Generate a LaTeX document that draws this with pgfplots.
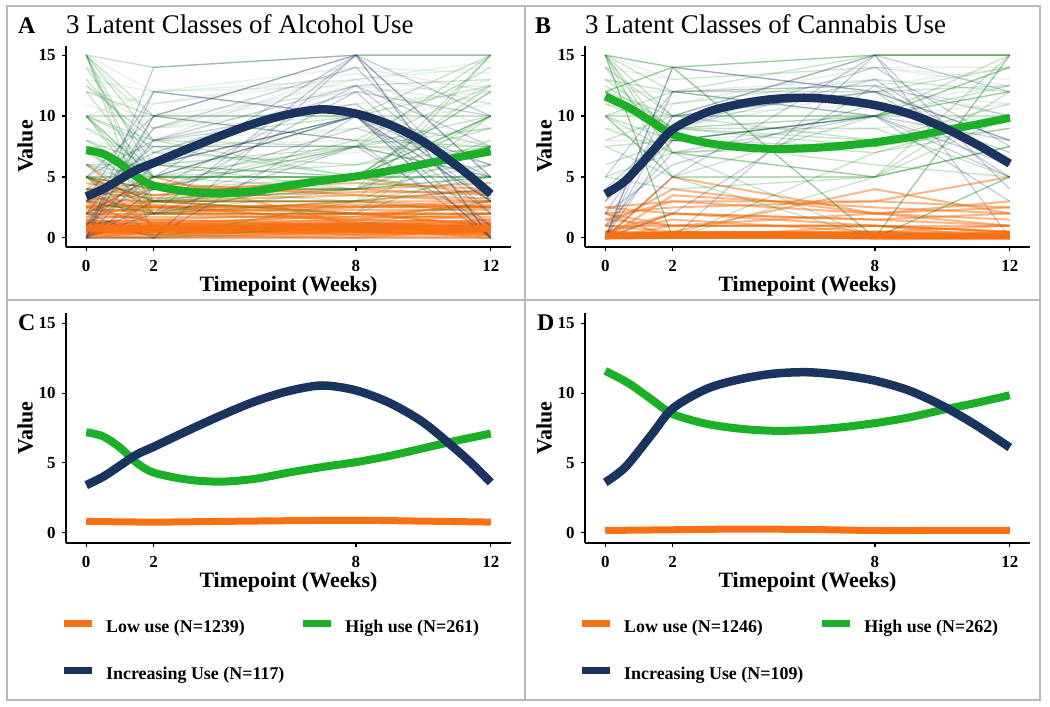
\documentclass[border=0pt]{standalone}
\usepackage{pgfplots}
\pgfplotsset{compat=1.18}
\usepackage{fontspec}
\setmainfont{Liberation Serif}
\definecolor{cOr}{RGB}{247,112,19}
\definecolor{cGr}{RGB}{28,176,40}
\definecolor{cNv}{RGB}{27,52,95}
\definecolor{cFr}{RGB}{185,185,185}
\pgfplotsset{
  panel/.style={scale only axis, width=445bp,
    xmin=-0.6, xmax=12.6, ymin=-0.75, ymax=15.75,
    axis lines=left, axis line style={-, line width=1.4bp, black},
    xtick={0,2,8,12}, ytick={0,5,10,15},
    tick align=outside, major tick length=4bp,
    tick style={line width=1.2bp, black},
    ticklabel style={font=\fontsize{17}{17}\selectfont\bfseries},
    xticklabel style={inner sep=0pt, yshift=-9bp},
    yticklabel style={xshift=-3bp},
    /pgf/number format/assume math mode=true,
    xlabel={Timepoint (Weeks)}, ylabel={Value},
    every axis y label/.style={at={(axis description cs:-0.092,0.5)}, rotate=90, anchor=center, inner sep=0pt, font=\fontsize{22}{22}\selectfont\bfseries},
    every axis x label/.style={at={(axis description cs:0.5,0)}, anchor=center, inner sep=0pt, yshift=-39.5bp, font=\fontsize{22}{22}\selectfont\bfseries},
  },
  sO/.style={cOr, opacity=0.5, line width=2bp},
  sG/.style={cGr!75!black, opacity=0.24, line width=1.3bp},
  sg/.style={cGr!85!black, opacity=0.12, line width=1.3bp},
  sN/.style={cNv, opacity=0.24, line width=1.3bp},
  sn/.style={cNv, opacity=0.1, line width=1.3bp},
  mO/.style={cOr, line width=7bp, smooth},
  mG/.style={cGr, line width=8bp, smooth},
  mN/.style={cNv, line width=8.5bp, smooth},
  leg/.style={legend columns=2,
    legend style={draw=none, fill=none, inner sep=0pt, anchor=north west,
      font=\fontsize{18}{18}\selectfont\bfseries,
      nodes={inner sep=0pt},
      row sep=33bp,
      /tikz/every odd column/.append style={column sep=11bp},
      /tikz/every even column/.append style={column sep=15bp}},
    legend cell align=left,
    legend image code/.code={\draw[##1, line width=7bp] (0bp,0.3em) -- (28bp,0.3em);}},
}
\begin{document}
\begin{tikzpicture}
\useasboundingbox (0bp,0bp) rectangle (1050bp,-707bp);
\draw[cFr, line width=2.5bp] (7bp,-6bp) rectangle (1040bp,-700bp);
\draw[cFr, line width=2.5bp] (525bp,-6bp) -- (525bp,-700bp);
\draw[cFr, line width=2.5bp] (7bp,-300bp) -- (1040bp,-300bp);
\node[anchor=base west, font=\fontsize{24}{24}\selectfont\bfseries, inner sep=0pt] at (18bp,-33bp) {A};
\node[anchor=base west, font=\fontsize{27}{27}\selectfont, inner sep=0pt] at (66bp,-33bp) {3 Latent Classes of Alcohol Use};
\node[anchor=base west, font=\fontsize{24}{24}\selectfont\bfseries, inner sep=0pt] at (535bp,-33bp) {B};
\node[anchor=base west, font=\fontsize{27}{27}\selectfont, inner sep=0pt] at (585bp,-33bp) {3 Latent Classes of Cannabis Use};
\node[anchor=base west, font=\fontsize{24}{24}\selectfont\bfseries, inner sep=0pt] at (18bp,-330bp) {C};
\node[anchor=base west, font=\fontsize{24}{24}\selectfont\bfseries, inner sep=0pt] at (537bp,-330bp) {D};

% ---------------- Panel A ----------------
\begin{axis}[panel, height=201bp, at={(66bp,-247bp)}, anchor=south west]
% faint green / navy haze
\addplot[sg] coordinates {(0,15)(2,12)(8,13)(12,14)};
\addplot[sg] coordinates {(0,14)(2,10)(8,12)(12,12.5)};
\addplot[sg] coordinates {(0,13)(2,12)(8,12.5)(12,13)};
\addplot[sg] coordinates {(0,12.5)(2,9)(8,12.5)(12,11)};
\addplot[sg] coordinates {(0,11)(2,9)(8,10)(12,13)};
\addplot[sg] coordinates {(0,10)(2,12)(8,14)(12,13.5)};
\addplot[sg] coordinates {(0,9)(2,8)(8,9)(12,12)};
\addplot[sg] coordinates {(0,8)(2,7)(8,9)(12,11)};
\addplot[sg] coordinates {(0,6)(2,7.5)(8,8)(12,9)};
\addplot[sg] coordinates {(0,5)(2,6)(8,7)(12,8)};
\addplot[sg] coordinates {(0,15)(2,9)(8,11)(12,12)};
\addplot[sg] coordinates {(0,12)(2,11)(8,13)(12,14.5)};
\addplot[sn] coordinates {(0,2)(2,8)(8,14)(12,12)};
\addplot[sn] coordinates {(0,1)(2,9)(8,13)(12,9)};
\addplot[sn] coordinates {(0,4)(2,11)(8,13.5)(12,11)};
\addplot[sn] coordinates {(0,0)(2,7)(8,12.5)(12,13)};
% orange
\addplot[sO] coordinates {(0,0)(2,0)(8,0)(12,0)};
\addplot[sO] coordinates {(0,0.25)(2,0.25)(8,0.25)(12,0.25)};
\addplot[sO] coordinates {(0,0.5)(2,0.5)(8,0.5)(12,0.5)};
\addplot[sO] coordinates {(0,0.75)(2,0.75)(8,0.75)(12,0.75)};
\addplot[sO] coordinates {(0,1)(2,1)(8,1)(12,1)};
\addplot[sO] coordinates {(0,0.5)(2,0.25)(8,0.75)(12,0.5)};
\addplot[sO] coordinates {(0,1)(2,0.5)(8,1)(12,0.75)};
\addplot[sO] coordinates {(0,0.25)(2,0.5)(8,0.25)(12,0.5)};
\addplot[sO] coordinates {(0,1.25)(2,1)(8,1.25)(12,1)};
\addplot[sO] coordinates {(0,0.75)(2,1)(8,0.5)(12,1)};
\addplot[sO] coordinates {(0,1)(2,0.75)(8,1.25)(12,0.75)};
\addplot[sO] coordinates {(0,0.5)(2,1)(8,0.5)(12,0.25)};
\addplot[sO] coordinates {(0,1.5)(2,1)(8,1.5)(12,1.25)};
\addplot[sO] coordinates {(0,1.25)(2,1.5)(8,1)(12,1.5)};
\addplot[sO] coordinates {(0,0)(2,0.5)(8,1)(12,0.5)};
\addplot[sO] coordinates {(0,1)(2,1.25)(8,0.75)(12,0)};
\addplot[sO] coordinates {(0,0.25)(2,0)(8,0.5)(12,0.25)};
\addplot[sO] coordinates {(0,0.75)(2,0.25)(8,0)(12,0.75)};
\addplot[sO] coordinates {(0,0.1)(2,0.1)(8,0.1)(12,0.1)};
\addplot[sO] coordinates {(0,0.4)(2,0.4)(8,0.4)(12,0.4)};
\addplot[sO] coordinates {(0,0.6)(2,0.6)(8,0.6)(12,0.6)};
\addplot[sO] coordinates {(0,0.9)(2,0.9)(8,0.9)(12,0.9)};
\addplot[sO] coordinates {(0,1.1)(2,1.1)(8,1.1)(12,1.1)};
\addplot[sO] coordinates {(0,1.2)(2,1.2)(8,1.2)(12,1.2)};
\addplot[sO] coordinates {(0,0.3)(2,0.8)(8,0.3)(12,0.6)};
\addplot[sO] coordinates {(0,0.8)(2,0.3)(8,0.8)(12,0.3)};
\addplot[sO] coordinates {(0,1.3)(2,0.6)(8,1.1)(12,0.9)};
\addplot[sO] coordinates {(0,0.2)(2,1.1)(8,0.6)(12,1.2)};
\addplot[sO] coordinates {(0,2)(2,1.5)(8,2)(12,2)};
\addplot[sO] coordinates {(0,1.5)(2,2)(8,1.5)(12,2)};
\addplot[sO] coordinates {(0,2.5)(2,2)(8,2.5)(12,2.5)};
\addplot[sO] coordinates {(0,2)(2,2.5)(8,2)(12,1.5)};
\addplot[sO] coordinates {(0,3)(2,2.5)(8,2.5)(12,3)};
\addplot[sO] coordinates {(0,2.5)(2,3)(8,2)(12,2.5)};
\addplot[sO] coordinates {(0,1.75)(2,1.75)(8,1.75)(12,1.75)};
\addplot[sO] coordinates {(0,2.25)(2,2.25)(8,2.25)(12,2.25)};
\addplot[sO] coordinates {(0,3)(2,3)(8,3)(12,2.5)};
\addplot[sO] coordinates {(0,3.5)(2,2)(8,3)(12,3)};
\addplot[sO] coordinates {(0,2.75)(2,2.5)(8,2.75)(12,2.5)};
\addplot[sO] coordinates {(0,1.4)(2,1.4)(8,1.4)(12,1.4)};
\addplot[sO] coordinates {(0,2.6)(2,2.6)(8,2.6)(12,2.6)};
\addplot[sO] coordinates {(0,3.25)(2,3)(8,3.5)(12,3.25)};
\addplot[sO] coordinates {(0,2)(2,2)(8,2)(12,2)};
\addplot[sO] coordinates {(0,2.5)(2,2.5)(8,2.5)(12,2.5)};
\addplot[sO] coordinates {(0,4.5)(2,3.5)(8,4)(12,4.5)};
\addplot[sO] coordinates {(0,3.75)(2,3.25)(8,3.75)(12,3.75)};
\addplot[sO] coordinates {(0,5)(2,3)(8,3)(12,4)};
\addplot[sO] coordinates {(0,4)(2,4.5)(8,3.5)(12,3)};
\addplot[sO] coordinates {(0,5)(2,4)(8,4)(12,3.5)};
\addplot[sO] coordinates {(0,3)(2,4)(8,4.5)(12,4)};
\addplot[sO] coordinates {(0,6)(2,2)(8,2)(12,1)};
\addplot[sO] coordinates {(0,5)(2,2.5)(8,1.5)(12,3)};
\addplot[sO] coordinates {(0,4)(2,1)(8,2)(12,2)};
\addplot[sO] coordinates {(0,2)(2,5)(8,1)(12,2)};
\addplot[sO] coordinates {(0,5)(2,1)(8,0.5)(12,0.5)};
\addplot[sO] coordinates {(0,3)(2,0.5)(8,0.5)(12,1)};
\addplot[sO] coordinates {(0,4)(2,3.5)(8,5)(12,3.5)};
\addplot[sO] coordinates {(0,0.5)(2,3)(8,2)(12,1)};
\addplot[sO] coordinates {(0,2.5)(2,1.25)(8,1.75)(12,2.75)};
\addplot[sO] coordinates {(0,1.75)(2,2.75)(8,1.25)(12,0.75)};
% green
\addplot[sG] coordinates {(0,15)(2,5)(8,5)(12,5)};
\addplot[sG] coordinates {(0,15)(2,0)(8,3)(12,2)};
\addplot[sG] coordinates {(0,15)(2,10)(8,10)(12,7.5)};
\addplot[sG] coordinates {(0,15)(2,14)(8,15)(12,15)};
\addplot[sG] coordinates {(0,15)(2,8)(8,7.5)(12,5)};
\addplot[sG] coordinates {(0,15)(2,3)(8,5)(12,10)};
\addplot[sG] coordinates {(0,15)(2,2)(8,4)(12,7.5)};
\addplot[sG] coordinates {(0,10)(2,5)(8,5)(12,7.5)};
\addplot[sG] coordinates {(0,10)(2,10)(8,10)(12,10)};
\addplot[sG] coordinates {(0,10)(2,3)(8,4)(12,5)};
\addplot[sG] coordinates {(0,10)(2,7.5)(8,5)(12,12)};
\addplot[sG] coordinates {(0,10)(2,4)(8,7.5)(12,15)};
\addplot[sG] coordinates {(0,7.5)(2,5)(8,4)(12,5)};
\addplot[sG] coordinates {(0,7.5)(2,7.5)(8,7.5)(12,7.5)};
\addplot[sG] coordinates {(0,7.5)(2,3)(8,2)(12,10)};
\addplot[sG] coordinates {(0,7.5)(2,4)(8,5)(12,6)};
\addplot[sG] coordinates {(0,5)(2,5)(8,5)(12,5)};
\addplot[sG] coordinates {(0,5)(2,3)(8,5)(12,7.5)};
\addplot[sG] coordinates {(0,5)(2,2)(8,5)(12,10)};
\addplot[sG] coordinates {(0,5)(2,4)(8,7.5)(12,7)};
\addplot[sG] coordinates {(0,6)(2,4)(8,3)(12,5)};
\addplot[sG] coordinates {(0,8)(2,5)(8,6)(12,7.5)};
\addplot[sG] coordinates {(0,9)(2,6)(8,5)(12,7)};
\addplot[sG] coordinates {(0,7)(2,4)(8,4)(12,6)};
\addplot[sG] coordinates {(0,12)(2,5)(8,5)(12,10)};
\addplot[sG] coordinates {(0,12.5)(2,8)(8,10)(12,12.5)};
\addplot[sG] coordinates {(0,14)(2,6)(8,7.5)(12,10)};
\addplot[sG] coordinates {(0,6)(2,3)(8,3)(12,4)};
\addplot[sG] coordinates {(0,5)(2,0)(8,1)(12,3)};
\addplot[sG] coordinates {(0,4)(2,3)(8,4)(12,15)};
\addplot[sG] coordinates {(0,3)(2,2)(8,5)(12,12.5)};
\addplot[sG] coordinates {(0,2)(2,3)(8,7.5)(12,9)};
\addplot[sG] coordinates {(0,6)(2,5)(8,5)(12,12)};
\addplot[sG] coordinates {(0,5)(2,5)(8,10)(12,15)};
\addplot[sG] coordinates {(0,7.5)(2,2)(8,3)(12,15)};
\addplot[sG] coordinates {(0,10)(2,5)(8,7.5)(12,12.5)};
\addplot[sG] coordinates {(0,4)(2,4)(8,4)(12,10)};
\addplot[sG] coordinates {(0,5)(2,3)(8,3)(12,7.5)};
\addplot[sG] coordinates {(0,3)(2,2)(8,2)(12,6)};
\addplot[sG] coordinates {(0,8)(2,6)(8,5)(12,5)};
\addplot[sG] coordinates {(0,12)(2,10)(8,8)(12,7.5)};
\addplot[sG] coordinates {(0,13)(2,7)(8,6)(12,9)};
\addplot[sG] coordinates {(0,5)(2,4)(8,8)(12,14)};
\addplot[sG] coordinates {(0,6)(2,6)(8,4)(12,8)};
\addplot[sG] coordinates {(0,10)(2,8)(8,5)(12,3)};
% navy
\addplot[sN] coordinates {(0,0)(2,14)(8,15)(12,15)};
\addplot[sN] coordinates {(0,0)(2,10)(8,15)(12,0)};
\addplot[sN] coordinates {(0,1)(2,5)(8,15)(12,5)};
\addplot[sN] coordinates {(0,2)(2,0)(8,10)(12,3)};
\addplot[sN] coordinates {(0,0)(2,3)(8,12)(12,10)};
\addplot[sN] coordinates {(0,3)(2,5)(8,10)(12,0)};
\addplot[sN] coordinates {(0,1)(2,2)(8,7.5)(12,5)};
\addplot[sN] coordinates {(0,0)(2,6)(8,10)(12,3)};
\addplot[sN] coordinates {(0,2)(2,4)(8,12.5)(12,7.5)};
\addplot[sN] coordinates {(0,3)(2,6)(8,10)(12,2)};
\addplot[sN] coordinates {(0,1)(2,10)(8,8)(12,0)};
\addplot[sN] coordinates {(0,0)(2,2)(8,15)(12,5)};
\addplot[sN] coordinates {(0,4)(2,7)(8,12)(12,2)};
\addplot[sN] coordinates {(0,2)(2,5)(8,10)(12,6)};
\addplot[sN] coordinates {(0,0)(2,0)(8,15)(12,0)};
\addplot[sN] coordinates {(0,1)(2,8)(8,12.5)(12,4)};
\addplot[sN] coordinates {(0,5)(2,8)(8,11)(12,3)};
\addplot[sN] coordinates {(0,0)(2,4)(8,9)(12,6)};
\addplot[sN] coordinates {(0,3)(2,12)(8,10)(12,5)};
\addplot[sN] coordinates {(0,2)(2,9)(8,14)(12,3)};
\addplot[sN] coordinates {(0,1)(2,6)(8,10)(12,1)};
\addplot[sN] coordinates {(0,0)(2,12)(8,10)(12,0)};
\addplot[sN] coordinates {(0,5)(2,10)(8,15)(12,10)};
\addplot[sN] coordinates {(0,3)(2,7.5)(8,7.5)(12,1)};
% means
\addplot[mO] coordinates {(0,0.8)(2,0.75)(4,0.8)(6,0.85)(8,0.88)(10,0.82)(12,0.75)};
\addplot[mG] coordinates {(0,7.2)(0.5,6.9)(1,6.1)(1.5,5.0)(2,4.3)(3,3.8)(4,3.65)(5,3.85)(6,4.3)(7,4.7)(8,5.05)(9,5.5)(10,6.05)(11,6.6)(12,7.1)};
\addplot[mN] coordinates {(0,3.4)(0.5,4.0)(1,4.8)(1.5,5.6)(2,6.15)(3,7.3)(4,8.4)(5,9.4)(6,10.15)(7,10.55)(8,10.2)(9,9.3)(10,7.9)(11,5.9)(11.5,4.8)(12,3.6)};
\end{axis}

% ---------------- Panel B ----------------
\begin{axis}[panel, height=201bp, at={(585bp,-247bp)}, anchor=south west]
\addplot[sg] coordinates {(0,14)(2,13)(8,14)(12,13)};
\addplot[sg] coordinates {(0,13)(2,11)(8,13)(12,12)};
\addplot[sg] coordinates {(0,12)(2,12)(8,12.5)(12,14)};
\addplot[sg] coordinates {(0,11)(2,10)(8,11)(12,12.5)};
\addplot[sg] coordinates {(0,10)(2,11)(8,13)(12,12)};
\addplot[sg] coordinates {(0,9)(2,9)(8,10)(12,11)};
\addplot[sg] coordinates {(0,8)(2,8)(8,9)(12,10)};
\addplot[sg] coordinates {(0,15)(2,13)(8,14)(12,14)};
\addplot[sn] coordinates {(0,1)(2,11)(8,14)(12,12.5)};
\addplot[sn] coordinates {(0,2)(2,12)(8,13)(12,10)};
\addplot[sn] coordinates {(0,0)(2,9)(8,12)(12,11)};
\addplot[sO] coordinates {(0,0)(2,0)(8,0)(12,0)};
\addplot[sO] coordinates {(0,0)(2,0)(8,0)(12,0)};
\addplot[sO] coordinates {(0,0.25)(2,0.25)(8,0.25)(12,0.25)};
\addplot[sO] coordinates {(0,0.5)(2,0.5)(8,0.5)(12,0.5)};
\addplot[sO] coordinates {(0,0.1)(2,0.3)(8,0.1)(12,0.2)};
\addplot[sO] coordinates {(0,0)(2,0)(8,0.5)(12,0)};
\addplot[sO] coordinates {(0,0.5)(2,0.25)(8,0)(12,0)};
\addplot[sO] coordinates {(0,0)(2,1)(8,1)(12,0.5)};
\addplot[sO] coordinates {(0,2.5)(2,2)(8,1.5)(12,1)};
\addplot[sO] coordinates {(0,2)(2,1)(8,1)(12,0.5)};
\addplot[sO] coordinates {(0,1.5)(2,3)(8,2)(12,1.5)};
\addplot[sO] coordinates {(0,0)(2,2)(8,1.5)(12,2)};
\addplot[sO] coordinates {(0,1)(2,4)(8,2)(12,1)};
\addplot[sO] coordinates {(0,2.5)(2,3)(8,3)(12,2.5)};
\addplot[sO] coordinates {(0,0)(2,0.5)(8,0.5)(12,0.25)};
\addplot[sO] coordinates {(0,1)(2,1)(8,1)(12,1)};
\addplot[sO] coordinates {(0,0.5)(2,2)(8,1)(12,0)};
\addplot[sO] coordinates {(0,0)(2,5)(8,2)(12,3)};
\addplot[sO] coordinates {(0,2)(2,2.5)(8,3)(12,5)};
\addplot[sO] coordinates {(0,0)(2,3.5)(8,2.5)(12,2)};
\addplot[sO] coordinates {(0,1.5)(2,1)(8,2)(12,2.5)};
\addplot[sO] coordinates {(0,0.5)(2,1.5)(8,0.5)(12,1)};
\addplot[sO] coordinates {(0,0)(2,0)(8,1)(12,0.5)};
\addplot[sO] coordinates {(0,2)(2,0)(8,0)(12,0.5)};
\addplot[sO] coordinates {(0,1)(2,0.5)(8,0)(12,0)};
\addplot[sO] coordinates {(0,0)(2,0.5)(8,4)(12,2)};
% green
\addplot[sG] coordinates {(0,15)(2,14)(8,15)(12,15)};
\addplot[sG] coordinates {(0,15)(2,14)(8,15)(12,15)};
\addplot[sG] coordinates {(0,15)(2,0)(8,7)(12,9)};
\addplot[sG] coordinates {(0,15)(2,10)(8,8)(12,10)};
\addplot[sG] coordinates {(0,15)(2,7)(8,5)(12,7.5)};
\addplot[sG] coordinates {(0,15)(2,12)(8,10)(12,14)};
\addplot[sG] coordinates {(0,15)(2,8)(8,7.5)(12,10)};
\addplot[sG] coordinates {(0,12)(2,10)(8,10)(12,12.5)};
\addplot[sG] coordinates {(0,12)(2,8)(8,7)(12,10)};
\addplot[sG] coordinates {(0,12.5)(2,9)(8,8)(12,10)};
\addplot[sG] coordinates {(0,10)(2,7)(8,7.5)(12,10)};
\addplot[sG] coordinates {(0,10)(2,10)(8,10)(12,10)};
\addplot[sG] coordinates {(0,10)(2,5)(8,5)(12,7.5)};
\addplot[sG] coordinates {(0,10)(2,8)(8,6)(12,5)};
\addplot[sG] coordinates {(0,13)(2,12)(8,12)(12,14)};
\addplot[sG] coordinates {(0,14)(2,7)(8,0)(12,15)};
\addplot[sG] coordinates {(0,11)(2,9)(8,7.5)(12,9)};
\addplot[sG] coordinates {(0,12)(2,14)(8,0)(12,5)};
\addplot[sG] coordinates {(0,12)(2,14)(8,0)(12,5)};
\addplot[sG] coordinates {(0,7.5)(2,5)(8,5)(12,10)};
\addplot[sG] coordinates {(0,7.5)(2,8)(8,10)(12,12)};
\addplot[sG] coordinates {(0,5)(2,7)(8,5)(12,15)};
\addplot[sG] coordinates {(0,15)(2,5)(8,10)(12,15)};
\addplot[sG] coordinates {(0,8)(2,10)(8,15)(12,15)};
\addplot[sG] coordinates {(0,10)(2,12)(8,15)(12,15)};
\addplot[sG] coordinates {(0,5)(2,4)(8,5)(12,7.5)};
\addplot[sG] coordinates {(0,10)(2,5)(8,0)(12,15)};
\addplot[sG] coordinates {(0,13)(2,9)(8,10)(12,12)};
\addplot[sG] coordinates {(0,14)(2,10)(8,12)(12,12.5)};
\addplot[sG] coordinates {(0,9)(2,7)(8,8)(12,11)};
\addplot[sG] coordinates {(0,12)(2,9)(8,9)(12,5)};
\addplot[sG] coordinates {(0,6)(2,8)(8,10)(12,14)};
\addplot[sG] coordinates {(0,15)(2,0)(8,5)(12,12)};
% navy
\addplot[sN] coordinates {(0,0)(2,14)(8,12)(12,8)};
\addplot[sN] coordinates {(0,0)(2,14)(8,12)(12,8)};
\addplot[sN] coordinates {(0,0)(2,5)(8,15)(12,0)};
\addplot[sN] coordinates {(0,2)(2,10)(8,12)(12,5)};
\addplot[sN] coordinates {(0,0)(2,8)(8,10)(12,6)};
\addplot[sN] coordinates {(0,3)(2,9)(8,14)(12,7.5)};
\addplot[sN] coordinates {(0,0)(2,2)(8,12.5)(12,10)};
\addplot[sN] coordinates {(0,1)(2,7)(8,10)(12,5)};
\addplot[sN] coordinates {(0,0)(2,10)(8,15)(12,4)};
\addplot[sN] coordinates {(0,5)(2,12)(8,12.5)(12,6)};
\addplot[sN] coordinates {(0,2)(2,6)(8,11)(12,7)};
\addplot[sN] coordinates {(0,0)(2,0)(8,15)(12,12)};
\addplot[sN] coordinates {(0,3)(2,8)(8,10)(12,8)};
\addplot[sN] coordinates {(0,0)(2,12)(8,10)(12,3)};
\addplot[sN] coordinates {(0,4)(2,9)(8,13)(12,6)};
% means
\addplot[mO] coordinates {(0,0.15)(2,0.2)(4,0.25)(6,0.22)(8,0.15)(10,0.15)(12,0.15)};
\addplot[mG] coordinates {(0,11.6)(0.7,10.7)(1.4,9.5)(2,8.5)(3,7.8)(4,7.45)(5,7.3)(6,7.35)(7,7.55)(8,7.85)(9,8.25)(10,8.8)(11,9.3)(12,9.85)};
\addplot[mN] coordinates {(0,3.6)(0.6,4.7)(1.4,7.1)(2,8.9)(3,10.3)(4,11.0)(5,11.4)(6,11.5)(7,11.3)(8,10.9)(9,10.2)(10,9.1)(11,7.7)(12,6.1)};
\end{axis}

% ---------------- Panel C ----------------
\begin{axis}[panel, leg, height=230bp, at={(66bp,-543bp)}, anchor=south west,
  legend style={at={(axis description cs:-0.0135,-0.333)}}]
\addplot[mO] coordinates {(0,0.8)(2,0.75)(4,0.8)(6,0.85)(8,0.88)(10,0.82)(12,0.75)};
\addlegendentry{Low use (N=1239)}
\addplot[mG] coordinates {(0,7.2)(0.5,6.9)(1,6.1)(1.5,5.0)(2,4.3)(3,3.8)(4,3.65)(5,3.85)(6,4.3)(7,4.7)(8,5.05)(9,5.5)(10,6.05)(11,6.6)(12,7.1)};
\addlegendentry{High use (N=261)}
\addplot[mN] coordinates {(0,3.4)(0.5,4.0)(1,4.8)(1.5,5.6)(2,6.15)(3,7.3)(4,8.4)(5,9.4)(6,10.15)(7,10.55)(8,10.2)(9,9.3)(10,7.9)(11,5.9)(11.5,4.8)(12,3.6)};
\addlegendentry{Increasing Use (N=117)}
\end{axis}

% ---------------- Panel D ----------------
\begin{axis}[panel, leg, height=230bp, at={(585bp,-543bp)}, anchor=south west,
  legend style={at={(axis description cs:-0.0157,-0.333)}}]
\addplot[mO] coordinates {(0,0.15)(2,0.2)(4,0.25)(6,0.22)(8,0.15)(10,0.15)(12,0.15)};
\addlegendentry{Low use (N=1246)}
\addplot[mG] coordinates {(0,11.6)(0.7,10.7)(1.4,9.5)(2,8.5)(3,7.8)(4,7.45)(5,7.3)(6,7.35)(7,7.55)(8,7.85)(9,8.25)(10,8.8)(11,9.3)(12,9.85)};
\addlegendentry{High use (N=262)}
\addplot[mN] coordinates {(0,3.6)(0.6,4.7)(1.4,7.1)(2,8.9)(3,10.3)(4,11.0)(5,11.4)(6,11.5)(7,11.3)(8,10.9)(9,10.2)(10,9.1)(11,7.7)(12,6.1)};
\addlegendentry{Increasing Use (N=109)}
\end{axis}
\end{tikzpicture}
\end{document}
